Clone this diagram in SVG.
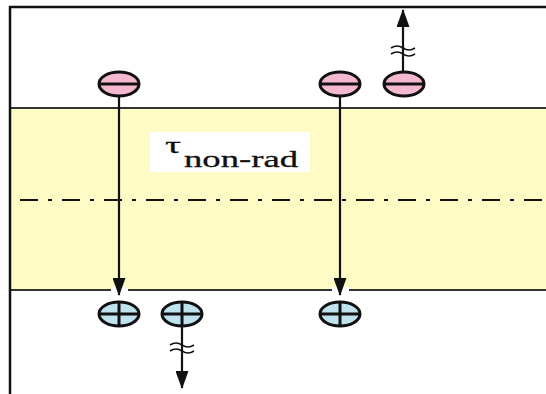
<svg xmlns="http://www.w3.org/2000/svg" width="546" height="394" viewBox="0 0 546 394">
<defs>
<style>
.frame{stroke:#111;stroke-width:2.5;fill:none}
.edge{stroke:#333;stroke-width:2;fill:none}
.arrow{stroke:#111;stroke-width:2.2;fill:none}
.e{fill:#f6b8d0;stroke:#111;stroke-width:3}
.h{fill:#bfe3ee;stroke:#111;stroke-width:3}
.sign{stroke:#111;stroke-width:3}
.brk{stroke:#111;stroke-width:1.6;fill:none}
.gap{fill:#fff}
.lbl{font-family:"Liberation Serif",serif;font-size:24px;fill:#111;stroke:#111;stroke-width:0.3}
</style>
<marker id="ah" viewBox="0 0 18 13" refX="17" refY="6.5" markerWidth="18" markerHeight="13" markerUnits="userSpaceOnUse" orient="auto">
<path d="M0,0 L18,6.5 L0,13 Z" fill="#111"/>
</marker>
</defs>
<rect x="0" y="0" width="546" height="394" fill="#fff"/>
<g id="band">
<rect x="10" y="108" width="536" height="182" fill="#fffbc4"/>
<line class="edge" x1="10" y1="108" x2="546" y2="108"/>
<line class="edge" x1="10" y1="290" x2="546" y2="290"/>
<line x1="10" y1="200" x2="546" y2="200" stroke="#111" stroke-width="2" stroke-dasharray="18 10 4 10" stroke-dashoffset="-10"/>
<rect class="gap" x="111" y="287" width="17" height="5"/>
<rect class="gap" x="332" y="287" width="17" height="5"/>
</g>
<g id="frame">
<polyline class="frame" points="10,394 10,7 546,7"/>
</g>
<g id="label">
<rect x="150" y="132" width="160" height="40" fill="#fff"/>
<text class="lbl" x="165" y="153" textLength="16" lengthAdjust="spacingAndGlyphs">τ</text>
<text class="lbl" x="184" y="167" textLength="114" lengthAdjust="spacingAndGlyphs">non-rad</text>
</g>
<g id="connectors">
<line class="arrow" x1="119" y1="96" x2="119" y2="295" marker-end="url(#ah)"/>
<line class="arrow" x1="340" y1="96" x2="340" y2="295" marker-end="url(#ah)"/>
<line class="arrow" x1="403" y1="72" x2="403" y2="10" marker-end="url(#ah)"/>
<path class="brk" d="M391,48 q6,-4 12,0 t12,0 M391,54 q6,-4 12,0 t12,0"/>
<line class="arrow" x1="182" y1="326" x2="182" y2="388" marker-end="url(#ah)"/>
<path class="brk" d="M170,345 q6,-4 12,0 t12,0 M170,351 q6,-4 12,0 t12,0"/>
</g>
<g id="electron1"><ellipse class="e" cx="119" cy="84" rx="20" ry="12"/><line class="sign" x1="99" y1="84" x2="139" y2="84"/></g>
<g id="electron2"><ellipse class="e" cx="340" cy="84" rx="20" ry="12"/><line class="sign" x1="320" y1="84" x2="360" y2="84"/></g>
<g id="electron3"><ellipse class="e" cx="404" cy="84" rx="20" ry="12"/><line class="sign" x1="384" y1="84" x2="424" y2="84"/></g>
<g id="hole1"><ellipse class="h" cx="119" cy="314" rx="20" ry="12"/><line class="sign" x1="99" y1="314" x2="139" y2="314"/><line class="sign" x1="119" y1="302" x2="119" y2="326"/></g>
<g id="hole2"><ellipse class="h" cx="182" cy="314" rx="20" ry="12"/><line class="sign" x1="162" y1="314" x2="202" y2="314"/><line class="sign" x1="182" y1="302" x2="182" y2="326"/></g>
<g id="hole3"><ellipse class="h" cx="340" cy="314" rx="20" ry="12"/><line class="sign" x1="320" y1="314" x2="360" y2="314"/><line class="sign" x1="340" y1="302" x2="340" y2="326"/></g>
</svg>
